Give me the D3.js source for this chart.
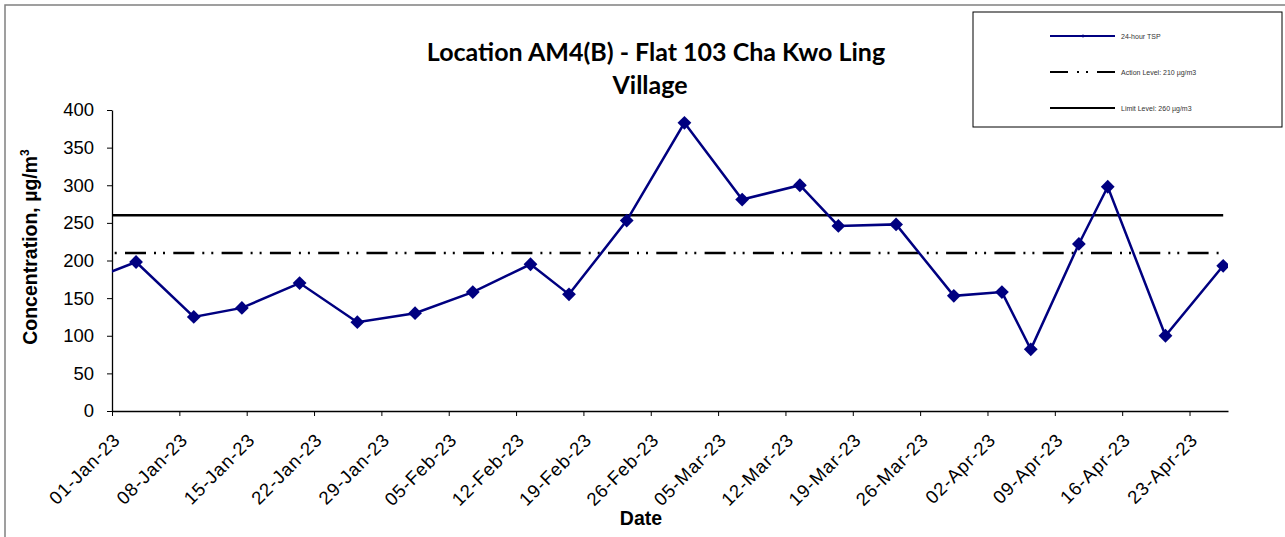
<!DOCTYPE html>
<html>
<head>
<meta charset="utf-8">
<script src="https://cdn.jsdelivr.net/npm/d3@7"></script>
<style>
  body { margin: 0; background: #fff; }
</style>
</head>
<body>
<div id="chart"></div>
<script>
// data
var dates = ["2022-12-28", "2023-01-03", "2023-01-09", "2023-01-14", "2023-01-20", "2023-01-26",
  "2023-02-01", "2023-02-07", "2023-02-13", "2023-02-17", "2023-02-23", "2023-03-01",
  "2023-03-07", "2023-03-13", "2023-03-17", "2023-03-23", "2023-03-29", "2023-04-03",
  "2023-04-06", "2023-04-11", "2023-04-14", "2023-04-20", "2023-04-26"];
var tsp = [168, 198, 125, 137, 170, 118, 130, 158, 195, 155, 253, 383, 281, 300, 246, 248,
  153, 158, 82, 222, 298, 100, 193];
var actionLevel = 210;
var limitLevel = 260;
var yTicks = [0, 50, 100, 150, 200, 250, 300, 350, 400];
var xTickDates = ["2023-01-01", "2023-01-08", "2023-01-15", "2023-01-22", "2023-01-29",
  "2023-02-05", "2023-02-12", "2023-02-19", "2023-02-26", "2023-03-05", "2023-03-12",
  "2023-03-19", "2023-03-26", "2023-04-02", "2023-04-09", "2023-04-16", "2023-04-23"];
var legendLabels = ["24-hour TSP", "Action Level: 210 \u00b5g/m3", "Limit Level: 260 \u00b5g/m3"];

var parse = d3.timeParse("%Y-%m-%d");
var fmt = d3.timeFormat("%d-%b-%y");

// plot area (same pixel frame as the picture)
var W = 1285, H = 537;
var margin = {left: 112, right: 1228, top: 110, bottom: 411};

var svg = d3.select("#chart")
  .append("svg")
  .attr("width", W)
  .attr("height", H);

// outer chart border
svg.append("rect")
  .attr("x", 5).attr("y", 5)
  .attr("width", W + 10).attr("height", H + 10)
  .attr("fill", "#fff")
  .attr("stroke", "#808080")
  .attr("stroke-width", 1.5);

var x = d3.scaleTime()
  .domain([parse("2023-01-01"), parse("2023-04-27")])
  .range([margin.left, margin.right]);

var y = d3.scaleLinear()
  .domain([0, 400])
  .range([margin.bottom, margin.top]);

// points sit in the middle of their day (between tick marks)
var mid = function(s) { return d3.timeHour.offset(parse(s), 12); };

var series = dates.map(function(d, i) { return {date: mid(d), value: tsp[i]}; });

svg.append("clipPath")
  .attr("id", "plotClip")
  .append("rect")
  .attr("x", margin.left).attr("y", 0)
  .attr("width", margin.right - margin.left).attr("height", H);

// y axis
svg.append("g")
  .attr("transform", "translate(" + margin.left + ",0)")
  .call(d3.axisLeft(y).tickValues(yTicks).tickSize(5).tickPadding(13).tickSizeOuter(0))
  .call(function(g) {
    g.selectAll("text").style("font-family", "'Liberation Sans', Arial, sans-serif").style("font-size", "18.5px").attr("fill", "#000");
    g.selectAll("line").attr("stroke", "#000");
    g.select(".domain").attr("stroke", "#000").attr("stroke-width", 1.3);
  });

// x axis
var xAxis = svg.append("g")
  .attr("transform", "translate(0," + margin.bottom + ")")
  .call(d3.axisBottom(x).tickValues(xTickDates.map(parse)).tickFormat(fmt).tickSize(5).tickSizeOuter(0));

xAxis.select(".domain").attr("stroke", "#000").attr("stroke-width", 1.3);
xAxis.selectAll("line").attr("stroke", "#000");
xAxis.selectAll("text")
  .style("font-family", "'Liberation Sans', Arial, sans-serif")
  .style("font-size", "18.5px")
  .style("letter-spacing", "0.9px")
  .attr("fill", "#000")
  .attr("text-anchor", "end")
  .attr("y", 0)
  .attr("dy", 0)
  .attr("transform", "translate(9,30) rotate(-45)");

// limit and action lines
var levelStart = parse("2023-01-01");
var levelEnd = mid("2023-04-26");

svg.append("line")
  .attr("x1", x(levelStart)).attr("x2", x(levelEnd))
  .attr("y1", y(limitLevel)).attr("y2", y(limitLevel))
  .attr("stroke", "#000")
  .attr("stroke-width", 2.5);

svg.append("line")
  .attr("x1", x(levelStart)).attr("x2", x(levelEnd))
  .attr("y1", y(actionLevel)).attr("y2", y(actionLevel))
  .attr("stroke", "#000")
  .attr("stroke-width", 2.5)
  .attr("stroke-dasharray", "21,8,2,7,2,8.3")
  .attr("stroke-dashoffset", 35.3);

// TSP line + diamond markers
var plot = svg.append("g").attr("clip-path", "url(#plotClip)");

plot.append("path")
  .datum(series)
  .attr("fill", "none")
  .attr("stroke", "#000080")
  .attr("stroke-width", 2.5)
  .attr("d", d3.line()
    .x(function(d) { return x(d.date); })
    .y(function(d) { return y(d.value); }));

plot.selectAll(".pt")
  .data(series)
  .enter().append("path")
  .attr("class", "pt")
  .attr("d", d3.symbol(d3.symbolSquare, 95))
  .attr("fill", "#000080")
  .attr("transform", function(d) { return "translate(" + x(d.date) + "," + y(d.value) + ") rotate(45)"; });

// title
var title = svg.append("text")
  .attr("text-anchor", "middle")
  .style("font-family", "Lato, 'Open Sans', sans-serif")
  .style("font-weight", "bold")
  .style("font-size", "25px")
  .attr("fill", "#000");
title.append("tspan").attr("x", 656).attr("y", 61).text("Location AM4(B) - Flat 103 Cha Kwo Ling");
title.append("tspan").attr("x", 650).attr("y", 94).text("Village");

// axis titles
svg.append("text")
  .attr("transform", "translate(37,247) rotate(-90)")
  .attr("text-anchor", "middle")
  .style("font-family", "'Liberation Sans', Arial, sans-serif")
  .style("font-weight", "bold")
  .style("font-size", "19.5px")
  .html("Concentration, \u00b5g/m<tspan dy='-8' font-size='12px'>3</tspan>");

svg.append("text")
  .attr("x", 641).attr("y", 525)
  .attr("text-anchor", "middle")
  .style("font-family", "'Liberation Sans', Arial, sans-serif")
  .style("font-weight", "bold")
  .style("font-size", "19.5px")
  .text("Date");

// Handmade legend
var legend = svg.append("g");
legend.append("rect")
  .attr("x", 973).attr("y", 12)
  .attr("width", 309).attr("height", 115)
  .attr("fill", "#fff")
  .attr("stroke", "#000")
  .attr("stroke-width", 1);

var legY = [36, 72, 108];
legend.append("line").attr("x1", 1050).attr("x2", 1115).attr("y1", legY[0]).attr("y2", legY[0])
  .attr("stroke", "#000080").attr("stroke-width", 2);
legend.append("path").attr("d", d3.symbol(d3.symbolSquare, 6))
  .attr("transform", "translate(1083," + legY[0] + ") rotate(45)")
  .attr("fill", "#000080");
legend.append("line").attr("x1", 1050).attr("x2", 1115).attr("y1", legY[1]).attr("y2", legY[1])
  .attr("stroke", "#000").attr("stroke-width", 2)
  .attr("stroke-dasharray", "18,9,2,7,2,9");
legend.append("line").attr("x1", 1050).attr("x2", 1115).attr("y1", legY[2]).attr("y2", legY[2])
  .attr("stroke", "#000").attr("stroke-width", 2);

legend.selectAll(".lt")
  .data(legendLabels)
  .enter().append("text")
  .attr("class", "lt")
  .attr("x", 1121)
  .attr("y", function(d, i) { return legY[i] + 2.5; })
  .style("font-family", "'Liberation Sans', Arial, sans-serif")
  .style("font-size", "7px")
  .attr("fill", "#333")
  .text(function(d) { return d; });
</script>
</body>
</html>
